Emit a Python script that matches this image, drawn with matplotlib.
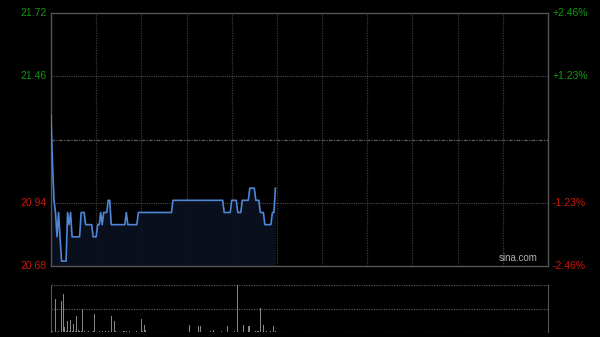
import matplotlib
matplotlib.use("Agg")
import matplotlib.pyplot as plt
import numpy as np

# ---- data (one value per trading minute, morning session) ----
prices = [
    21.30, 21.10, 20.95, 20.90, 20.80, 20.90, 20.80, 20.70, 20.70, 20.70,
    20.70, 20.90, 20.85, 20.90, 20.80, 20.80, 20.80, 20.80, 20.80, 20.80,
    20.90, 20.90, 20.90, 20.85, 20.85, 20.85, 20.85, 20.85, 20.80, 20.80,
    20.80, 20.85, 20.85, 20.90, 20.85, 20.90, 20.90, 20.90, 20.95, 20.95,
    20.85, 20.85, 20.85, 20.85, 20.85, 20.85, 20.85, 20.85, 20.85, 20.85,
    20.90, 20.85, 20.85, 20.85, 20.85, 20.85, 20.85, 20.85, 20.90, 20.90,
    20.90, 20.90, 20.90, 20.90, 20.90, 20.90, 20.90, 20.90, 20.90, 20.90,
    20.90, 20.90, 20.90, 20.90, 20.90, 20.90, 20.90, 20.90, 20.90, 20.90,
    20.90, 20.95, 20.95, 20.95, 20.95, 20.95, 20.95, 20.95, 20.95, 20.95,
    20.95, 20.95, 20.95, 20.95, 20.95, 20.95, 20.95, 20.95, 20.95, 20.95,
    20.95, 20.95, 20.95, 20.95, 20.95, 20.95, 20.95, 20.95, 20.95, 20.95,
    20.95, 20.95, 20.95, 20.95, 20.95, 20.90, 20.90, 20.90, 20.90, 20.90,
    20.95, 20.95, 20.95, 20.95, 20.90, 20.90, 20.90, 20.95, 20.95, 20.95,
    20.95, 20.95, 21.00, 21.00, 21.00, 21.00, 20.95, 20.95, 20.95, 20.90,
    20.90, 20.90, 20.85, 20.85, 20.85, 20.85, 20.85, 20.90, 20.90, 21.00,
]
volumes = [
    3, 2, 26, 70, 51, 3, 2, 65, 81, 11,
    2, 24, 3, 25, 2, 16, 2, 34, 4, 2,
    3, 48, 2, 1, 1, 2, 1, 0, 2, 38,
    1, 1, 2, 1, 3, 1, 2, 1, 2, 1,
    34, 1, 24, 2, 1, 1, 0, 1, 2, 2,
    2, 1, 2, 1, 0, 1, 1, 2, 1, 1,
    27, 3, 15, 5, 1, 1, 0, 1, 1, 1,
    1, 1, 0, 1, 1, 1, 0, 1, 1, 1,
    1, 20, 1, 1, 0, 1, 1, 1, 0, 1,
    1, 1, 14, 1, 1, 0, 1, 1, 13, 13,
    1, 1, 0, 1, 1, 1, 2, 1, 5, 1,
    1, 1, 1, 2, 1, 1, 1, 12, 1, 1,
    1, 1, 2, 1, 100, 1, 1, 1, 15, 1,
    1, 12, 12, 1, 1, 1, 2, 3, 3, 51,
    1, 14, 1, 2, 1, 1, 3, 1, 12, 3,
]
prev_close = 21.20
y_ticks_left = ["21.72", "21.46", "20.94", "20.68"]
y_ticks_right = ["+2.46%", "+1.23%", "-1.23%", "-2.46%"]
y_tick_values = [21.72, 21.46, 20.94, 20.68]
total_minutes = 330

x = np.arange(len(prices))

W, H = 600, 337
fig = plt.figure(figsize=(W / 100, H / 100), dpi=100, facecolor="black")
plt.rcParams["font.family"] = ["Liberation Sans", "DejaVu Sans"]

def fx(px):
    return px / W

def fy(py):
    return 1 - py / H

ax = fig.add_axes([fx(51), fy(266), fx(548) - fx(51), fy(13) - fy(266)])
ax.set_facecolor("black")
ax.set_xlim(0, total_minutes)
ax.set_ylim(20.68, 21.72)

for s in ax.spines.values():
    s.set_color("#555555")
    s.set_linewidth(1)

# grid
for m in range(30, total_minutes, 30):
    ax.axvline(m, color="#3a3a3a", lw=0.9, ls=(0, (1, 1)), zorder=1)
for v in [21.46, 20.94]:
    ax.axhline(v, color="#4a4a4a", lw=0.8, ls=(0, (1, 1)), zorder=1)
ax.axhline(prev_close, color="#5a5a5a", lw=0.9, ls=(0, (3, 1, 1, 1)), zorder=1)

ax.fill_between(x, prices, 20.68, color="#0b1120", alpha=0.9, zorder=2, lw=0)
ax.plot(x, prices, color="#4f86d6", lw=1.2, zorder=3, solid_joinstyle="round")

ax.set_xticks([])
ax.set_yticks([])

for v, lab in zip(y_tick_values, y_ticks_left):
    col = "#0e9a0e" if v > prev_close else "#c8180c"
    ax.text(-0.008, v, lab, transform=ax.get_yaxis_transform(), ha="right",
            va="center", color=col, fontsize=7.5)
for v, lab in zip(y_tick_values, y_ticks_right):
    col = "#0e9a0e" if v > prev_close else "#c8180c"
    ax.text(1.01, v, lab, transform=ax.get_yaxis_transform(), ha="left",
            va="center", color=col, fontsize=7.5)

ax.text(0.98, 0.012, "sina.com", transform=ax.transAxes, ha="right", va="bottom",
        color="#b0b0b0", fontsize=7)

# volume panel
vax = fig.add_axes([fx(51), fy(332), fx(548) - fx(51), fy(285) - fy(332)])
vax.set_facecolor("black")
vax.set_xlim(0, total_minutes)
vax.set_ylim(0, 100)
for k in ["top", "bottom"]:
    vax.spines[k].set_visible(False)
for k in ["left", "right"]:
    vax.spines[k].set_color("#555555")
for v in [0, 50, 100]:
    vax.axhline(v, color="#555555", lw=0.9, ls=(0, (1, 1)), zorder=1)
vax.bar(x, volumes, width=0.6, color="#858585", zorder=2, lw=0)
vax.set_xticks([])
vax.set_yticks([])

fig.savefig("out.png", dpi=100, facecolor="black")
